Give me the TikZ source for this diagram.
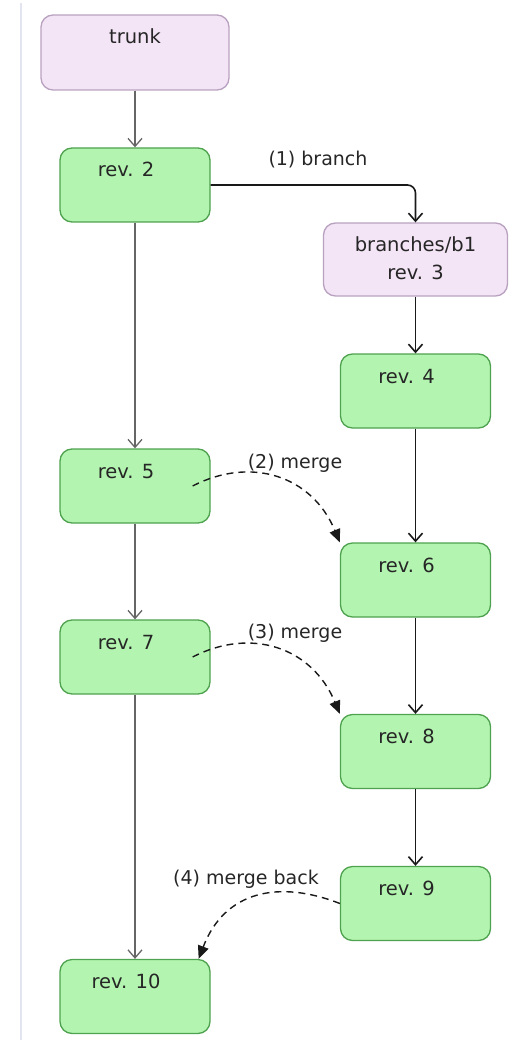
\documentclass[tikz,border=0pt]{standalone}
\usepackage{fontspec}
\setmainfont{DejaVu Sans}
\usetikzlibrary{arrows.meta}

\definecolor{revfill}{HTML}{B3F5B0}
\definecolor{revline}{HTML}{4FA24F}
\definecolor{brfill}{HTML}{F3E4F6}
\definecolor{brline}{HTML}{B9A2C0}
\definecolor{txt}{HTML}{262626}
\definecolor{trunkline}{HTML}{666666}
\definecolor{rail}{HTML}{E2E5EF}

\tikzset{
  box/.style={rounded corners=12pt, line width=1.3pt, inner xsep=0pt, inner ysep=0pt,
    text height=29pt, text depth=45pt, font=\fontsize{19.5}{28}\selectfont, text=txt},
  rev/.style={box, fill=revfill, draw=revline, minimum width=150pt,
    execute at end node=\hspace*{18pt}},
  br/.style={box, fill=brfill, draw=brline},
  flow/.style={-{Straight Barb[length=8pt,width=14pt]}, line width=1.3pt, draw=trunkline},
  bflow/.style={flow, line width=1.6pt, draw=black!90},
  merge/.style={-{Triangle[length=13pt,width=11pt]}, dash pattern=on 7pt off 5pt,
    line width=1.4pt, draw=black!90},
  lbl/.style={font=\fontsize{19}{22}\selectfont, text=txt, inner sep=0pt}
}

\begin{document}
\begin{tikzpicture}[x=1pt,y=-1pt]
\useasboundingbox (0,0) rectangle (512,1040);

% thin rule along the left margin
\draw[rail, line width=2pt] (21,3) -- (21,1040);

% trunk column
\node[br, minimum width=188pt, text depth=46pt] (trunk) at (135,52.5) {trunk};
\node[rev] (r2)  at (135,185)   {rev. 2};
\node[rev] (r5)  at (135,486)   {rev. 5};
\node[rev] (r7)  at (135,657)   {rev. 7};
\node[rev] (r10) at (135,996.5) {rev. 10};

% branch column
\node[br, minimum width=184pt, text depth=44pt] (b1) at (415.5,259.5)
  {\begin{tabular}[t]{@{}c@{}}branches/b1\\rev. 3\end{tabular}};
\node[rev] (r4) at (415.5,391)   {rev. 4};
\node[rev] (r6) at (415.5,580)   {rev. 6};
\node[rev] (r8) at (415.5,751.5) {rev. 8};
\node[rev] (r9) at (415.5,903.5) {rev. 9};

% trunk history
\draw[flow] (trunk) -- (r2);
\draw[flow] (r2) -- (r5);
\draw[flow] (r5) -- (r7);
\draw[flow] (r7) -- (r10);

% branch creation and branch history
\draw[bflow, rounded corners=8pt] (r2.east) -| (b1.north);
\node[lbl] (l1) at (318,160) {(1) branch};
\draw[bflow] (b1) -- (r4);
\draw[bflow] (r4) -- (r6);
\draw[bflow] (r6) -- (r8);
\draw[bflow] (r8) -- (r9);

% merges
\node[lbl] (l2) at (295,463) {(2) merge};
\draw[merge] ([xshift=-18pt]r5.east) .. controls +(58,-30) and +(-28,-67) .. (r6.north west);
\node[lbl] (l3) at (295,633) {(3) merge};
\draw[merge] ([xshift=-18pt]r7.east) .. controls +(58,-30) and +(-28,-67) .. (r8.north west);
\node[lbl] (l4) at (246,879) {(4) merge back};
\draw[merge] (r9.west) .. controls (280,880) and (225,890) .. ([xshift=-12pt]r10.north east);
\end{tikzpicture}
\end{document}
